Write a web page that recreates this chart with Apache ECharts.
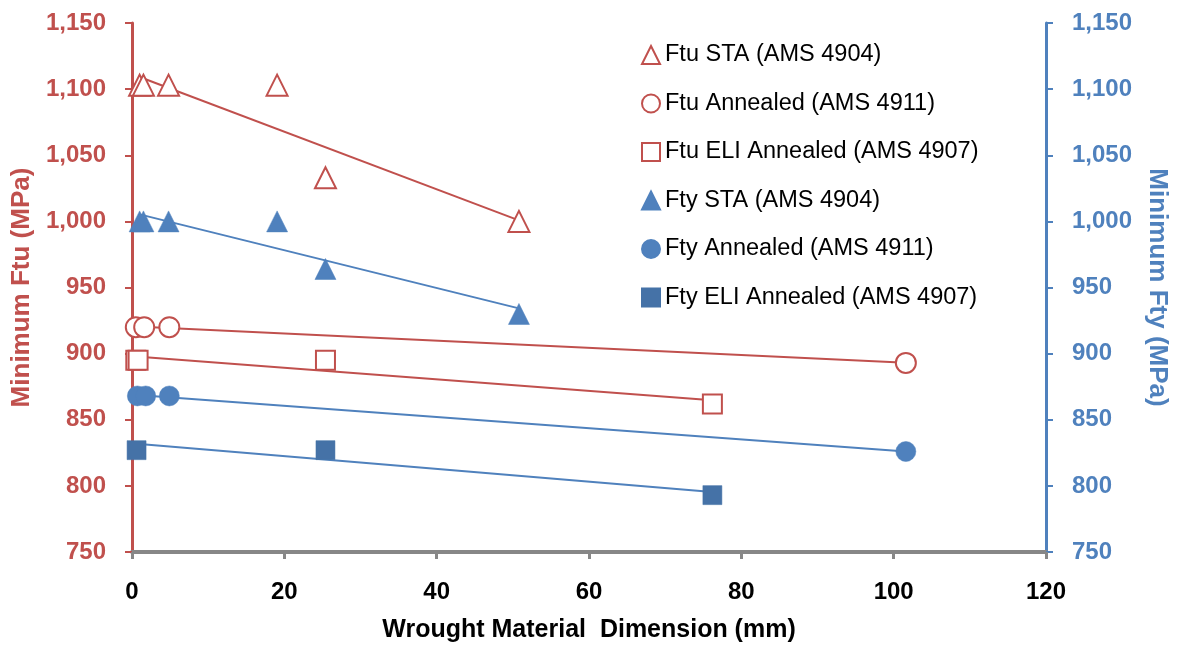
<!DOCTYPE html>
<html>
<head>
<meta charset="utf-8">
<script src="https://cdn.jsdelivr.net/npm/echarts@6/dist/echarts.min.js"></script>
<style>
html,body{margin:0;padding:0;background:#fff;}
#c{width:1178px;height:650px;}
</style>
</head>
<body>
<div id="c"></div>
<script>
// ---- data (dimension in mm, strength in MPa) ----
var ftuStaX = [1.0, 1.5, 4.8, 19.05, 25.4, 50.8];
var ftuStaY = [1103, 1103, 1103, 1103, 1033, 1000];
var ftuAnnX = [0.5, 1.6, 4.9, 101.6];
var ftuAnnY = [920, 920, 920, 893];
var ftuEliX = [0.5, 0.8, 25.4, 76.2];
var ftuEliY = [895, 895, 895, 862];
var ftyStaX = [1.0, 1.5, 4.8, 19.05, 25.4, 50.8];
var ftyStaY = [1000, 1000, 1000, 1000, 964, 930];
var ftyAnnX = [0.7, 1.8, 4.9, 101.6];
var ftyAnnY = [868, 868, 868, 826];
var ftyEliX = [0.6, 25.4, 76.2];
var ftyEliY = [827, 827, 793];

var seriesNames = [
  'Ftu STA (AMS 4904)',
  'Ftu Annealed (AMS 4911)',
  'Ftu ELI Annealed (AMS 4907)',
  'Fty STA (AMS 4904)',
  'Fty Annealed (AMS 4911)',
  'Fty ELI Annealed (AMS 4907)'
];
var xTicks = [0, 20, 40, 60, 80, 100, 120];
var yTicks = [750, 800, 850, 900, 950, 1000, 1050, 1100, 1150];

var RED = '#C0504D', BLUE = '#4F81BD', DBLUE = '#4572A7', GRAY = '#878787';
var FONT = '"Liberation Sans", Arial, sans-serif';

function pairs(xs, ys){ return xs.map(function(x,i){ return [x, ys[i]]; }); }
// linear least-squares trendline, drawn from first to last x (as a spreadsheet trendline)
function trend(xs, ys){
  var n = xs.length, mx = 0, my = 0;
  for (var i=0;i<n;i++){ mx += xs[i]; my += ys[i]; }
  mx /= n; my /= n;
  var sxy = 0, sxx = 0;
  for (var j=0;j<n;j++){ sxy += (xs[j]-mx)*(ys[j]-my); sxx += (xs[j]-mx)*(xs[j]-mx); }
  var b = sxy/sxx, a = my - b*mx;
  var x0 = Math.min.apply(null, xs), x1 = Math.max.apply(null, xs);
  return [[x0, a+b*x0],[x1, a+b*x1]];
}

var groups = [
  {x: ftuStaX, y: ftuStaY, sym: 'triangle', hollow: true,  c: RED,   ax: 0},
  {x: ftuAnnX, y: ftuAnnY, sym: 'circle',   hollow: true,  c: RED,   ax: 0},
  {x: ftuEliX, y: ftuEliY, sym: 'rect',     hollow: true,  c: RED,   ax: 0},
  {x: ftyStaX, y: ftyStaY, sym: 'triangle', hollow: false, c: BLUE,  ax: 1, lc: BLUE},
  {x: ftyAnnX, y: ftyAnnY, sym: 'circle',   hollow: false, c: BLUE,  ax: 1, lc: BLUE},
  {x: ftyEliX, y: ftyEliY, sym: 'rect',     hollow: false, c: DBLUE, ax: 1, lc: BLUE}
];

var series = [];
groups.forEach(function(g, i){
  series.push({
    name: seriesNames[i] + ' trend',
    type: 'line',
    yAxisIndex: g.ax,
    data: trend(g.x, g.y),
    symbol: 'none',
    silent: true,
    z: 2,
    lineStyle: {color: g.lc || g.c, width: 2}
  });
});
groups.forEach(function(g, i){
  series.push({
    name: seriesNames[i],
    type: 'scatter',
    yAxisIndex: g.ax,
    symbol: g.sym,
    symbolSize: g.sym === 'triangle' ? 21 : (g.sym === 'circle' ? 20 : 19),
    z: 5,
    data: pairs(g.x, g.y),
    itemStyle: g.hollow
      ? {color: '#ffffff', borderColor: g.c, borderWidth: 2, opacity: 1}
      : {color: g.c, borderColor: g.c, borderWidth: 0.5, opacity: 1}
  });
});

function fmt(v){ return Number(v).toLocaleString('en-US'); }

var yCommon = {
  type: 'value',
  min: yTicks[0], max: yTicks[yTicks.length-1], interval: 50,
  splitLine: {show: false},
  nameLocation: 'middle'
};

var chart = echarts.init(document.getElementById('c'), null, {renderer: 'canvas'});
chart.setOption({
  animation: false,
  backgroundColor: '#ffffff',
  grid: {left: 132, right: 130, top: 23, bottom: 98, containLabel: false},
  legend: {
    data: seriesNames,
    orient: 'vertical',
    left: 636, top: 37,
    itemWidth: 18, itemHeight: 18,
    itemGap: 22.5,
    textStyle: {fontFamily: FONT, fontSize: 23.5, color: '#000', lineHeight: 26},
    selectedMode: false
  },
  xAxis: {
    type: 'value',
    min: xTicks[0], max: xTicks[xTicks.length-1], interval: 20,
    name: 'Wrought Material  Dimension (mm)',
    nameLocation: 'middle', nameGap: 66,
    nameTextStyle: {fontFamily: FONT, fontSize: 25, fontWeight: 'bold', color: '#000'},
    axisLine: {show: true, onZero: false, lineStyle: {color: GRAY, width: 4}},
    axisTick: {show: true, length: 7, lineStyle: {color: GRAY, width: 3}},
    axisLabel: {margin: 28, fontFamily: FONT, fontSize: 24, fontWeight: 'bold', color: '#000'},
    splitLine: {show: false}
  },
  yAxis: [
    Object.assign({}, yCommon, {
      position: 'left',
      name: 'Minimum Ftu (MPa)', nameGap: 96, nameRotate: 90,
      nameTextStyle: {fontFamily: FONT, fontSize: 26, fontWeight: 'bold', color: RED},
      axisLine: {show: true, lineStyle: {color: RED, width: 3}},
      axisTick: {show: true, length: 7, lineStyle: {color: RED, width: 2}},
      axisLabel: {margin: 26, formatter: fmt, fontFamily: FONT, fontSize: 24, fontWeight: 'bold', color: RED}
    }),
    Object.assign({}, yCommon, {
      position: 'right',
      name: 'Minimum Fty (MPa)', nameGap: 98, nameRotate: -90,
      nameTextStyle: {fontFamily: FONT, fontSize: 26, fontWeight: 'bold', color: BLUE},
      axisLine: {show: true, lineStyle: {color: BLUE, width: 3}},
      axisTick: {show: true, length: 7, lineStyle: {color: BLUE, width: 2}},
      axisLabel: {margin: 26, formatter: fmt, fontFamily: FONT, fontSize: 24, fontWeight: 'bold', color: BLUE}
    })
  ],
  series: series
});
</script>
</body>
</html>
